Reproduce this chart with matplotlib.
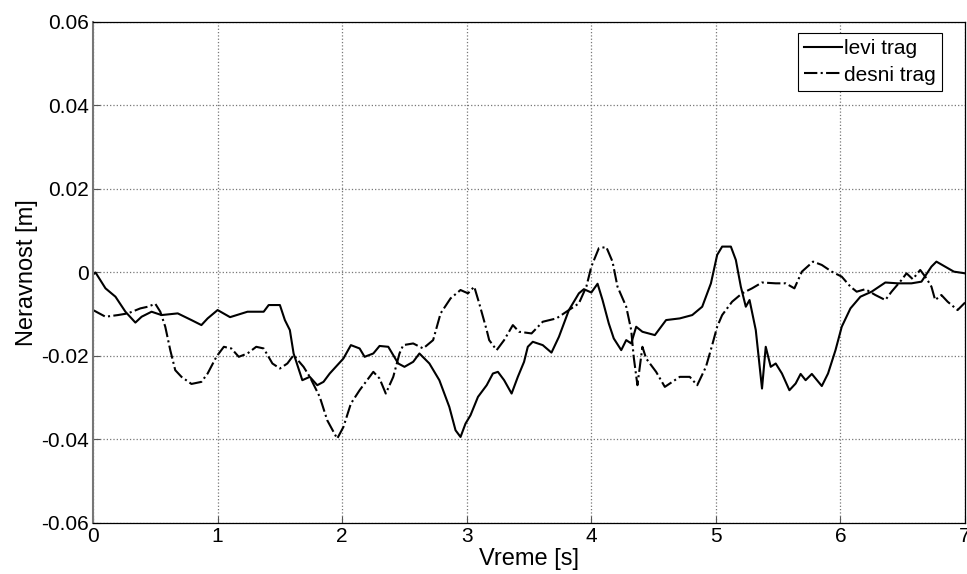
import numpy as np
import matplotlib
matplotlib.use('Agg')
import matplotlib.pyplot as plt

plt.rcParams['font.family'] = ['Liberation Sans', 'DejaVu Sans']

# levi trag (puna linija)
t_levi = [0.0, 0.02, 0.1, 0.18, 0.26, 0.34, 0.39, 0.47, 0.55, 0.68, 0.79, 0.87, 0.92, 1.0,
          1.1, 1.24, 1.37, 1.41, 1.50, 1.54, 1.58, 1.61, 1.68, 1.74, 1.80, 1.85, 1.90,
          2.01, 2.07, 2.14, 2.18, 2.25, 2.30, 2.37, 2.45, 2.50, 2.57, 2.62, 2.70, 2.78,
          2.86, 2.91, 2.95, 2.99, 3.03, 3.09, 3.16, 3.21, 3.25, 3.30, 3.36, 3.41, 3.46,
          3.49, 3.53, 3.61, 3.68, 3.74, 3.82, 3.90, 3.94, 4.0, 4.05, 4.09, 4.14, 4.18,
          4.24, 4.28, 4.32, 4.36, 4.41, 4.51, 4.60, 4.71, 4.81, 4.89, 4.96, 5.01, 5.05,
          5.12, 5.16, 5.20, 5.24, 5.27, 5.32, 5.37, 5.40, 5.44, 5.48, 5.53, 5.59, 5.64,
          5.68, 5.72, 5.77, 5.85, 5.90, 5.96, 6.01, 6.08, 6.16, 6.25, 6.36, 6.46, 6.57,
          6.65, 6.73, 6.77, 6.84, 6.91, 7.0]
v_levi = [-0.0005, 0.0, -0.0038, -0.0058, -0.0094, -0.0120, -0.0106, -0.0094, -0.0102,
          -0.0098, -0.0114, -0.0126, -0.0110, -0.0090, -0.0107, -0.0094, -0.0094,
          -0.0078, -0.0078, -0.0114, -0.0138, -0.0194, -0.0258, -0.0250, -0.0270,
          -0.0262, -0.0242, -0.0206, -0.0174, -0.0182, -0.0202, -0.0194, -0.0176,
          -0.0178, -0.0218, -0.0226, -0.0214, -0.0194, -0.0218, -0.0258, -0.0322,
          -0.0378, -0.0394, -0.0362, -0.0342, -0.0298, -0.0270, -0.0242, -0.0238,
          -0.0258, -0.0290, -0.0250, -0.0214, -0.0178, -0.0166, -0.0174, -0.0192,
          -0.0154, -0.0090, -0.0050, -0.0040, -0.0048, -0.0027, -0.0066, -0.0122,
          -0.0158, -0.0186, -0.0162, -0.0170, -0.0130, -0.0142, -0.0150, -0.0114,
          -0.0110, -0.0102, -0.0082, -0.0026, 0.0042, 0.0062, 0.0062, 0.0030, -0.0034,
          -0.0082, -0.0066, -0.0138, -0.0278, -0.0178, -0.0226, -0.0218, -0.0242,
          -0.0282, -0.0266, -0.0243, -0.0258, -0.0243, -0.0272, -0.0242, -0.0186,
          -0.0130, -0.0086, -0.0058, -0.0046, -0.0024, -0.0026, -0.0026, -0.0022,
          0.0014, 0.0026, 0.0014, 0.0002, -0.0002]

# desni trag (crta-tacka)
t_desni = [0.0, 0.1, 0.2, 0.28, 0.38, 0.44, 0.50, 0.54, 0.58, 0.62, 0.66, 0.71, 0.79,
           0.87, 0.92, 0.99, 1.05, 1.11, 1.17, 1.24, 1.31, 1.37, 1.44, 1.50, 1.56, 1.61,
           1.69, 1.74, 1.82, 1.88, 1.96, 2.01, 2.07, 2.14, 2.25, 2.30, 2.35, 2.41, 2.46,
           2.49, 2.57, 2.65, 2.73, 2.79, 2.87, 2.95, 3.01, 3.06, 3.10, 3.16, 3.18, 3.24,
           3.30, 3.37, 3.42, 3.52, 3.61, 3.72, 3.82, 3.90, 3.96, 4.0, 4.06, 4.12, 4.17,
           4.21, 4.28, 4.32, 4.34, 4.37, 4.41, 4.44, 4.48, 4.52, 4.59, 4.63, 4.71, 4.79,
           4.85, 4.92, 4.97, 5.01, 5.05, 5.13, 5.21, 5.29, 5.37, 5.48, 5.56, 5.63, 5.69,
           5.78, 5.85, 5.93, 6.01, 6.08, 6.13, 6.20, 6.28, 6.36, 6.41, 6.49, 6.53, 6.58,
           6.64, 6.69, 6.73, 6.76, 6.81, 6.86, 6.94, 7.0]
v_desni = [-0.0090, -0.0106, -0.0102, -0.0098, -0.0086, -0.0082, -0.0075, -0.0094,
           -0.0130, -0.0186, -0.0234, -0.0250, -0.0267, -0.0262, -0.0242, -0.0202,
           -0.0178, -0.0182, -0.0202, -0.0194, -0.0178, -0.0182, -0.0218, -0.0230,
           -0.0218, -0.0198, -0.0226, -0.0250, -0.0298, -0.0354, -0.0398, -0.0370,
           -0.0314, -0.0282, -0.0238, -0.0254, -0.0290, -0.0250, -0.0194, -0.0174,
           -0.0170, -0.0182, -0.0162, -0.0098, -0.0062, -0.0042, -0.0050, -0.0034,
           -0.0074, -0.0138, -0.0162, -0.0186, -0.0162, -0.0126, -0.0142, -0.0146,
           -0.0118, -0.0110, -0.0090, -0.0074, -0.0034, 0.0014, 0.0058, 0.0061, 0.0026,
           -0.0034, -0.0082, -0.0138, -0.0202, -0.0270, -0.0178, -0.0206, -0.0222,
           -0.0238, -0.0274, -0.0266, -0.0250, -0.0250, -0.0270, -0.0226, -0.0174,
           -0.0130, -0.0102, -0.0070, -0.0050, -0.0038, -0.0024, -0.0026, -0.0026,
           -0.0038, 0.0002, 0.0026, 0.0018, 0.0002, -0.0010, -0.0034, -0.0046, -0.0040,
           -0.0054, -0.0066, -0.0046, -0.0018, -0.0002, -0.0016, 0.0006, -0.0014,
           -0.0034, -0.0066, -0.0054, -0.0070, -0.0090, -0.0072]

x_ticks = [0, 1, 2, 3, 4, 5, 6, 7]
y_ticks = [-0.06, -0.04, -0.02, 0, 0.02, 0.04, 0.06]
y_tick_labels = ['-0.06', '-0.04', '-0.02', '0', '0.02', '0.04', '0.06']

fig = plt.figure(figsize=(9.67, 5.74), dpi=100)
ax = fig.add_axes([0.0962, 0.0889, 0.9018, 0.8728])

ax.plot(t_levi, v_levi, color='black', linewidth=1.5, linestyle='-', label='levi trag')
ax.plot(t_desni, v_desni, color='black', linewidth=1.5, linestyle='-.', label='desni trag')

ax.set_xlim(0, 7)
ax.set_ylim(-0.06, 0.06)
ax.set_xticks(x_ticks)
ax.set_yticks(y_ticks)
ax.set_yticklabels(y_tick_labels)
ax.tick_params(direction='in', labelsize=15, length=5, color='#555555', pad=3)
ax.grid(True, linestyle=':', color='#777777', linewidth=0.9)
for s in ax.spines.values():
    s.set_color('black')
    s.set_linewidth(0.9)
ax.spines['left'].set_color('#777777')
ax.spines['left'].set_linewidth(1.5)

ax.set_xlabel('Vreme [s]', fontsize=17, labelpad=1)
ax.set_ylabel('Neravnost [m]', fontsize=17, labelpad=2)

leg = ax.legend(loc='upper right', bbox_to_anchor=(0.9736, 0.978), fontsize=15,
                fancybox=False, framealpha=1, edgecolor='black', handlelength=1.8,
                handletextpad=0.1, borderpad=0.3, labelspacing=0.35, borderaxespad=0)
leg.get_frame().set_linewidth(0.8)

fig.savefig('out.png', dpi=100)
